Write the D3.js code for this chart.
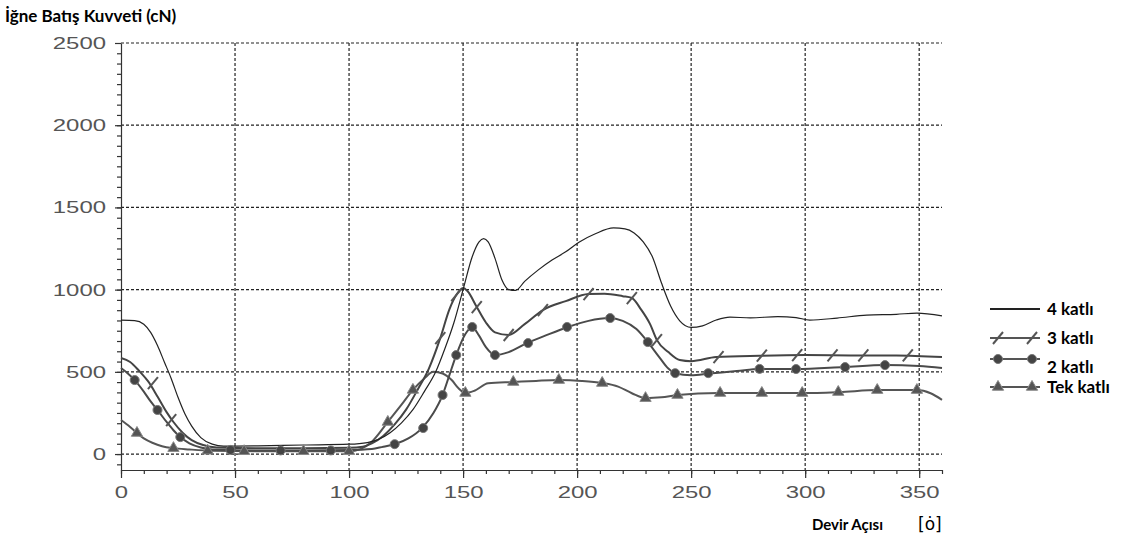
<!DOCTYPE html>
<html>
<head>
<meta charset="utf-8">
<title>İğne Batış Kuvveti</title>
<script src="https://d3js.org/d3.v7.min.js"></script>
<style>
  body { margin: 0; background: #fff; }
  svg { display: block; }
</style>
</head>
<body>
<svg id="chart" width="1124" height="547"></svg>
<script>
// values: angle (deg) and force (cN)
var angle4 = [0, 6, 10, 13, 16, 19, 22, 25, 28, 31, 35, 40, 45, 60, 80, 100, 108, 113, 118, 123, 128, 133, 138, 142, 146, 150, 154, 157, 159, 161, 164, 167, 170, 173, 177, 183, 189, 195, 201, 208, 216, 221, 225, 229, 233, 237, 241, 245, 250, 255, 261, 267, 276, 288, 296, 302, 314, 327, 340, 349, 360];
var force4 = [815, 812, 790, 740, 660, 560, 460, 345, 245, 170, 100, 60, 48, 50, 55, 60, 70, 90, 130, 190, 270, 380, 500, 640, 800, 1000, 1200, 1290, 1310, 1290, 1190, 1060, 1000, 995, 1050, 1120, 1180, 1230, 1290, 1340, 1375, 1370, 1345, 1290, 1200, 1040, 900, 810, 770, 780, 815, 833, 828, 836, 830, 815, 827, 845, 850, 857, 840];

var angle3 = [0, 4, 8, 12, 16, 20, 23, 27, 31, 36, 42, 60, 80, 100, 106, 110, 115, 120, 125, 130, 135, 140, 144, 147, 150, 152, 156, 160, 164, 170, 177, 185, 195, 205, 212, 220, 224, 228, 232, 235, 240, 245, 250, 261, 280, 300, 320, 340, 360];
var force3 = [584, 560, 505, 440, 350, 255, 195, 130, 85, 55, 40, 35, 35, 38, 45, 65, 110, 180, 270, 390, 520, 705, 880, 967, 1010, 990, 894, 800, 740, 724, 790, 876, 930, 973, 975, 960, 949, 880, 790, 693, 620, 572, 565, 590, 598, 602, 600, 600, 590];

var angle2 = [0, 3, 6, 10, 13, 16, 20, 23, 26, 30, 35, 40, 60, 80, 100, 110, 115, 120, 126, 132, 137, 141, 144, 147, 151, 154, 157, 160, 164, 170, 178, 186, 196, 205, 214, 220, 226, 231, 236, 240, 243, 250, 258, 270, 280, 296, 317, 335, 350, 360];
var force2 = [523, 490, 450, 380, 320, 268, 195, 145, 103, 65, 40, 28, 22, 22, 24, 30, 45, 60, 95, 158, 250, 359, 480, 602, 730, 773, 720, 650, 602, 620, 675, 720, 773, 810, 827, 810, 760, 681, 590, 520, 492, 480, 490, 505, 518, 517, 529, 541, 535, 523];

var angle1 = [0, 4, 7, 10, 14, 18, 23, 30, 40, 60, 80, 100, 105, 110, 117, 123, 128, 133, 137, 141, 145, 148, 151, 155, 161, 172, 182, 192, 202, 211, 218, 224, 230, 237, 244, 262, 281, 299, 315, 332, 349, 355, 360];
var force1 = [207, 165, 128, 95, 67, 48, 36, 28, 20, 17, 17, 17, 30, 75, 195, 300, 390, 460, 500, 490, 450, 400, 371, 385, 430, 438, 445, 450, 445, 432, 410, 370, 340, 345, 359, 371, 371, 371, 377, 389, 389, 370, 330];

// marker positions [angle, force]
var marks3 = [[14, 432], [22, 207], [140, 705], [147, 967], [156, 894], [170, 724], [185, 876], [205, 973], [224, 949], [235, 693], [262, 590], [281, 598], [296.5, 602], [312, 600], [325.5, 600], [345, 600]];
var marks2 = [[6, 450], [16, 268], [26, 103], [48, 25], [70, 22], [92, 22], [120, 60], [132.5, 158], [141, 359], [147, 602], [154, 773], [164, 602], [178.5, 675], [195.6, 773], [214.5, 827], [231, 681], [243, 492], [257.5, 492], [280, 518], [296, 517], [317.5, 529], [335, 541]];
var marks1 = [[7, 128], [23, 36], [38, 20], [54, 17], [80, 17], [100, 17], [117, 195], [128, 390], [151, 371], [172, 438], [192, 450], [211, 432], [230, 340], [244, 359], [262.7, 371], [281, 371], [298.7, 371], [314.5, 377], [331.6, 389], [349, 389]];

var xTicks = [0, 50, 100, 150, 200, 250, 300, 350];
var yTicks = [0, 500, 1000, 1500, 2000, 2500];
var seriesNames = ["4 katlı", "3 katlı", "2 katlı", "Tek katlı"];

var svg = d3.select("#chart");

var x = d3.scaleLinear().domain([0, 360]).range([121, 942]);
var y = d3.scaleLinear().domain([-97, 2500]).range([470, 43]);

// title and axis names
svg.append("text")
  .attr("x", 5).attr("y", 22)
  .style("font-family", "Lato, 'Open Sans', sans-serif")
  .style("font-weight", "bold")
  .style("font-size", "17px")
  .text("İğne Batış Kuvveti (cN)");

svg.append("text")
  .attr("x", 812).attr("y", 530)
  .style("font-family", "Lato, 'Open Sans', sans-serif")
  .style("font-weight", "bold")
  .style("font-size", "15px")
  .text("Devir Açısı");

svg.append("text")
  .attr("x", 918).attr("y", 530)
  .style("font-family", "'DejaVu Sans', sans-serif")
  .style("font-size", "17px")
  .text("[ȯ]");

// grid
var grid = svg.append("g")
  .attr("stroke", "#222")
  .attr("stroke-width", 1.2)
  .attr("stroke-dasharray", "3,2");

grid.selectAll(".hg")
  .data(yTicks)
  .enter().append("line")
  .attr("x1", x(0)).attr("x2", x(360))
  .attr("y1", function(d) { return y(d); })
  .attr("y2", function(d) { return y(d); });

grid.selectAll(".vg")
  .data(xTicks.slice(1))
  .enter().append("line")
  .attr("x1", function(d) { return x(d); })
  .attr("x2", function(d) { return x(d); })
  .attr("y1", y(2500)).attr("y2", y(-97));

// axes: minor ticks first, then majors with labels
var yMinor = d3.range(-62.5, 2500, 62.5);
var xMinor = d3.range(0, 361, 10);

svg.append("g")
  .attr("transform", "translate(" + x(0) + ",0)")
  .call(d3.axisLeft(y).tickValues(yMinor).tickSize(4).tickFormat(""))
  .call(function(g) { g.select(".domain").remove(); });

svg.append("g")
  .attr("transform", "translate(0," + y(-97) + ")")
  .call(d3.axisBottom(x).tickValues(xMinor).tickSize(4).tickFormat(""))
  .call(function(g) { g.select(".domain").remove(); });

var yAxis = svg.append("g")
  .attr("class", "y-axis")
  .attr("transform", "translate(" + x(0) + ",0)")
  .call(d3.axisLeft(y).tickValues(yTicks).tickSize(6).tickPadding(9).tickSizeOuter(0).tickFormat(d3.format("d")));

var xAxis = svg.append("g")
  .attr("class", "x-axis")
  .attr("transform", "translate(0," + y(-97) + ")")
  .call(d3.axisBottom(x).tickValues(xTicks).tickSize(8).tickPadding(5).tickSizeOuter(0).tickFormat(d3.format("d")));

xAxis.select(".domain").attr("d", "M" + x(0) + ",0.5H" + x(360));

svg.selectAll(".tick line, .domain")
  .attr("stroke", "#333")
  .attr("stroke-width", 1.2);

svg.selectAll(".y-axis text, .x-axis text")
  .style("font-family", "'Liberation Sans', Arial, sans-serif")
  .style("font-size", "17px")
  .attr("fill", "#555")
  .attr("lengthAdjust", "spacingAndGlyphs")
  .attr("textLength", function(d) { return String(d).length * 13.3; });

svg.selectAll(".x-axis text").attr("dy", "0.9em");

// lines
function toPoints(xs, ys) {
  return xs.map(function(a, i) { return [a, ys[i]]; });
}

var line = d3.line()
  .x(function(d) { return x(d[0]); })
  .y(function(d) { return y(d[1]); })
  .curve(d3.curveMonotoneX);

var plot = svg.append("g").attr("fill", "none").attr("stroke-linejoin", "round");

plot.append("path").datum(toPoints(angle1, force1))
  .attr("d", line).attr("stroke", "#555").attr("stroke-width", 2);
plot.append("path").datum(toPoints(angle2, force2))
  .attr("d", line).attr("stroke", "#4a4a4a").attr("stroke-width", 2);
plot.append("path").datum(toPoints(angle3, force3))
  .attr("d", line).attr("stroke", "#444").attr("stroke-width", 2);
plot.append("path").datum(toPoints(angle4, force4))
  .attr("d", line).attr("stroke", "#222").attr("stroke-width", 1.2);

// markers
var tri = d3.symbol().type(d3.symbolTriangle).size(55);

function slash(g) {
  g.append("line")
    .attr("x1", -5).attr("y1", 6).attr("x2", 5).attr("y2", -6)
    .attr("stroke", "#555").attr("stroke-width", 2);
}
function dot(g) {
  g.append("circle").attr("r", 4.5)
    .attr("fill", "#444").attr("stroke", "#777").attr("stroke-width", 1);
}
function triangle(g) {
  g.append("path").attr("d", tri)
    .attr("fill", "#555").attr("stroke", "#888").attr("stroke-width", 1);
}

function drawMarks(data, shape) {
  svg.append("g").selectAll("g")
    .data(data)
    .enter().append("g")
    .attr("transform", function(d) { return "translate(" + x(d[0]) + "," + y(d[1]) + ")"; })
    .each(function() { shape(d3.select(this)); });
}
drawMarks(marks3, slash);
drawMarks(marks2, dot);
drawMarks(marks1, triangle);

// legend
var legendY = [309, 338, 359, 387];
var legendShapes = [null, slash, dot, triangle];

var legend = svg.selectAll(".legend")
  .data(seriesNames)
  .enter().append("g")
  .attr("class", "legend")
  .attr("transform", function(d, i) { return "translate(990," + legendY[i] + ")"; });

legend.append("line")
  .attr("x1", 0).attr("x2", 50)
  .attr("stroke", function(d, i) { return i === 0 ? "#222" : "#555"; })
  .attr("stroke-width", 2);

legend.each(function(d, i) {
  if (!legendShapes[i]) return;
  var g = d3.select(this);
  [8, 42].forEach(function(px) {
    var m = g.append("g").attr("transform", "translate(" + px + ",0)");
    legendShapes[i](m);
  });
});

legend.append("text")
  .attr("x", 57)
  .attr("y", function(d, i) { return i === 2 ? 8 : 0; })
  .attr("dy", "0.35em")
  .style("font-family", "Lato, 'Open Sans', sans-serif")
  .style("font-weight", "bold")
  .style("font-size", "17px")
  .text(function(d) { return d; });
</script>
</body>
</html>
